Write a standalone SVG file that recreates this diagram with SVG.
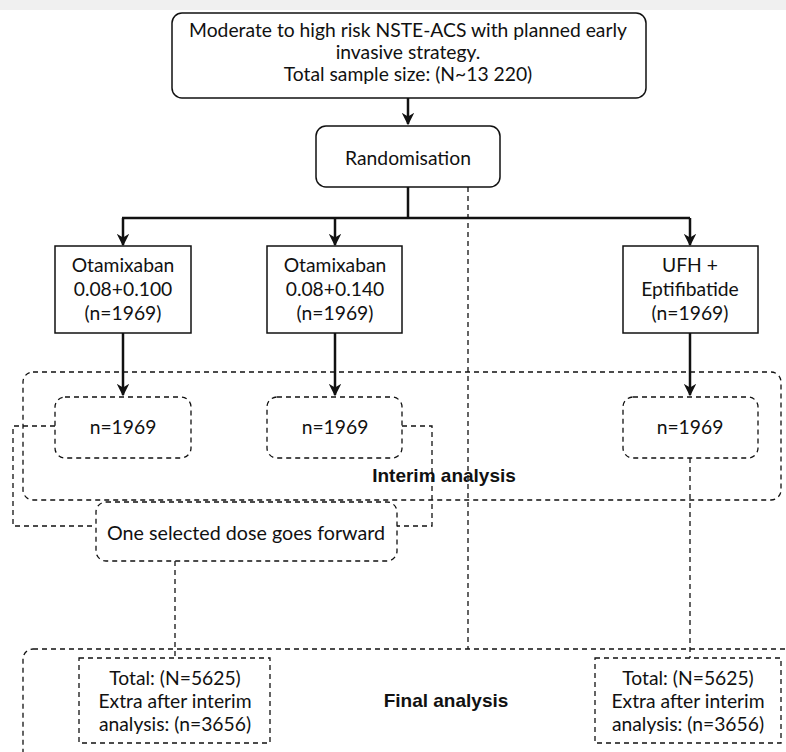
<svg xmlns="http://www.w3.org/2000/svg" width="786" height="752" viewBox="0 0 786 752">
<style>
text{font-family:Lato,"Liberation Sans",sans-serif;font-size:19.3px;fill:#111;text-anchor:middle;dominant-baseline:central}
.b{font-family:"Liberation Sans",Arial,sans-serif;font-weight:bold;font-size:19px}
.solid{fill:#fff;stroke:#111;stroke-width:1.5}
.dash{fill:none;stroke:#111;stroke-width:1.3;stroke-dasharray:5 4}
.dashbox{fill:#fff;stroke:#111;stroke-width:1.3;stroke-dasharray:5 4}
.arr{fill:none;stroke:#111;stroke-width:2.5}
</style>
<defs>
<marker id="ah" viewBox="0 0 10 10" refX="9" refY="5" markerWidth="5" markerHeight="5" orient="auto" markerUnits="strokeWidth">
<path d="M0,0 L10,5 L0,10 L3,5 z" fill="#111"/>
</marker>
</defs>
<rect x="0" y="0" width="786" height="10" fill="#f0f0f0"/>
<g id="interim-region">
<rect class="dash" x="23" y="372" width="758" height="128" rx="10"/>
<text class="b" x="444" y="475">Interim analysis</text>
</g>
<g id="final-region">
<rect class="dash" x="23" y="649" width="790" height="120" rx="10"/>
<text class="b" x="446" y="700">Final analysis</text>
</g>
<g id="connectors">
<path class="arr" d="M408,98 V124" marker-end="url(#ah)"/>
<path class="arr" d="M408,187 V218 M122,218 H690"/>
<path class="arr" d="M123,218 V245" marker-end="url(#ah)"/>
<path class="arr" d="M335,218 V245" marker-end="url(#ah)"/>
<path class="arr" d="M690,218 V245" marker-end="url(#ah)"/>
<path class="arr" d="M123,333 V395" marker-end="url(#ah)"/>
<path class="arr" d="M335,333 V395" marker-end="url(#ah)"/>
<path class="arr" d="M690,333 V395" marker-end="url(#ah)"/>
<path class="dash" d="M468,187 V649"/>
<path class="dash" d="M55,426 H13 V526 H96"/>
<path class="dash" d="M402,426 H432 V526 H397"/>
<path class="dash" d="M175,561 V658"/>
<path class="dash" d="M690,458 V658"/>
</g>
<g id="top">
<rect class="solid" x="172" y="13" width="474" height="85" rx="10"/>
<text x="408" y="29">Moderate to high risk NSTE-ACS with planned early</text>
<text x="408" y="51">invasive strategy.</text>
<text x="408" y="73">Total sample size: (N~13 220)</text>
</g>
<g id="randomisation">
<rect class="solid" x="316" y="126" width="184" height="61" rx="10"/>
<text x="408" y="157">Randomisation</text>
</g>
<g id="arm1">
<rect class="solid" x="55" y="246" width="136" height="87"/>
<text x="123" y="264">Otamixaban</text>
<text x="123" y="288">0.08+0.100</text>
<text x="123" y="312">(n=1969)</text>
</g>
<g id="arm2">
<rect class="solid" x="267" y="246" width="135" height="87"/>
<text x="335" y="264">Otamixaban</text>
<text x="335" y="288">0.08+0.140</text>
<text x="335" y="312">(n=1969)</text>
</g>
<g id="arm3">
<rect class="solid" x="623" y="246" width="135" height="87"/>
<text x="690" y="264">UFH +</text>
<text x="690" y="288">Eptifibatide</text>
<text x="690" y="312">(n=1969)</text>
</g>
<g id="interim1">
<rect class="dashbox" x="55" y="397" width="136" height="61" rx="10"/>
<text x="123" y="426">n=1969</text>
</g>
<g id="interim2">
<rect class="dashbox" x="267" y="397" width="135" height="61" rx="10"/>
<text x="335" y="426">n=1969</text>
</g>
<g id="interim3">
<rect class="dashbox" x="623" y="397" width="135" height="61" rx="10"/>
<text x="690" y="426">n=1969</text>
</g>
<g id="selected">
<rect class="dashbox" x="96" y="502" width="301" height="59" rx="10"/>
<text x="246" y="532" style="font-size:19.7px">One selected dose goes forward</text>
</g>
<g id="final1">
<rect class="dashbox" x="79" y="658" width="191" height="85"/>
<text x="175" y="677">Total: (N=5625)</text>
<text x="175" y="700">Extra after interim</text>
<text x="175" y="723">analysis: (n=3656)</text>
</g>
<g id="final2">
<rect class="dashbox" x="595" y="658" width="186" height="85"/>
<text x="688" y="677">Total: (N=5625)</text>
<text x="688" y="700">Extra after interim</text>
<text x="688" y="723">analysis: (n=3656)</text>
</g>
</svg>
